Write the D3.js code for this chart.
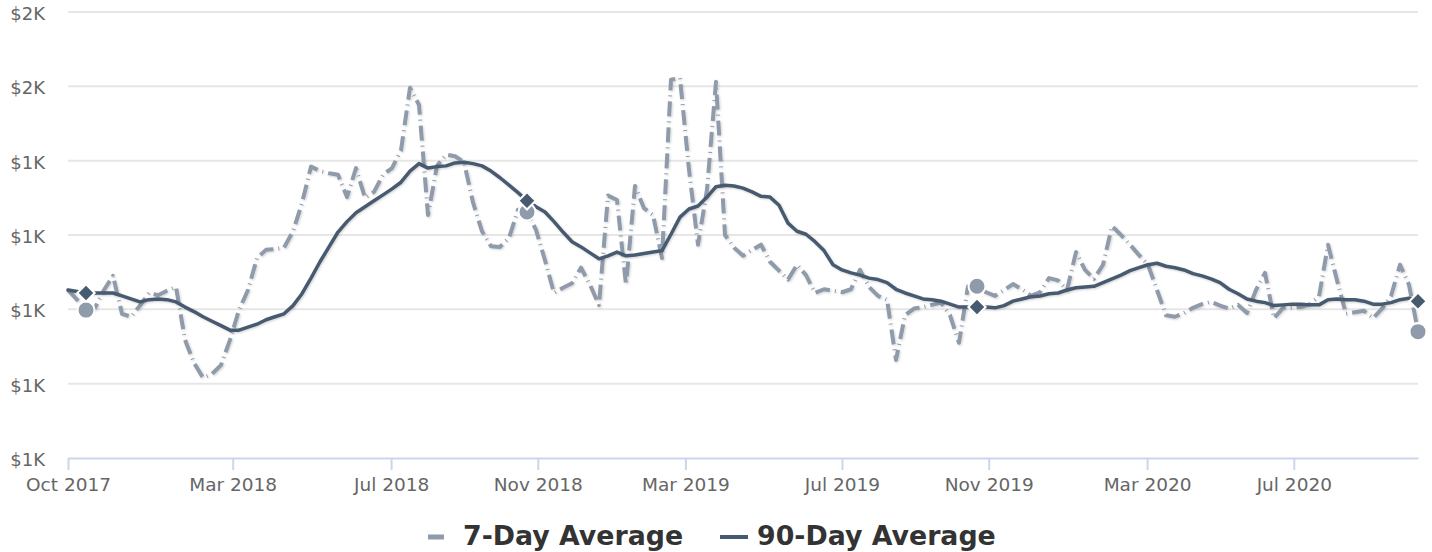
<!DOCTYPE html>
<html><head><meta charset="utf-8">
<script src="https://cdn.jsdelivr.net/npm/d3@7"></script>
<style>
html,body{margin:0;padding:0;background:#fff;}
svg{display:block;font-family:"DejaVu Sans",sans-serif;}
</style></head>
<body>
<svg id="chart" width="1432" height="552"></svg>
<script>
// ---- data ----
const seriesNames = ["7-Day Average", "90-Day Average"];
const sevenDay = [1226,1213,1199,1202,1226,1245,1194,1190,1205,1222,
1219,1225,1230,1159,1128,1108,1113,1125,1159,1199,
1226,1269,1280,1281,1283,1305,1343,1392,1386,1383,
1381,1351,1390,1350,1358,1381,1390,1414,1498,1475,
1327,1393,1408,1406,1398,1344,1305,1285,1284,1296,
1334,1331,1307,1266,1222,1229,1235,1256,1233,1206,
1353,1347,1233,1366,1336,1327,1269,1509,1511,1388,
1287,1361,1506,1300,1283,1272,1280,1287,1264,1252,
1240,1260,1246,1222,1227,1225,1223,1227,1253,1230,
1218,1213,1132,1192,1201,1203,1206,1209,1192,1155,
1231,1231,1223,1218,1226,1234,1227,1218,1223,1242,
1239,1226,1277,1253,1241,1260,1312,1300,1287,1273,
1260,1226,1192,1190,1195,1202,1207,1210,1205,1201,
1206,1195,1226,1249,1188,1202,1202,1203,1207,1217,
1287,1239,1194,1196,1198,1188,1201,1218,1260,1233,1170];
const ninetyDay = [1226,1224,1222,1222,1222,1222,1218,1214,1210,1213,
1214,1213,1210,1203,1197,1190,1184,1178,1172,1172,
1176,1180,1186,1190,1194,1205,1221,1242,1264,1284,
1304,1318,1330,1338,1346,1354,1362,1371,1386,1396,
1390,1392,1393,1397,1398,1396,1393,1386,1377,1367,
1357,1346,1338,1331,1318,1304,1291,1284,1276,1268,
1272,1277,1272,1273,1275,1277,1279,1301,1324,1335,
1339,1351,1365,1367,1366,1363,1358,1352,1351,1340,
1316,1305,1301,1291,1279,1260,1253,1249,1246,1242,
1240,1236,1227,1222,1218,1214,1213,1211,1207,1203,
1203,1203,1203,1202,1205,1211,1214,1217,1218,1221,
1222,1226,1229,1230,1231,1236,1241,1246,1252,1256,
1260,1262,1258,1256,1253,1248,1245,1241,1236,1227,
1221,1214,1211,1209,1205,1206,1207,1207,1206,1206,
1213,1214,1213,1213,1211,1207,1207,1209,1213,1215,1211];
const markerIdx = [2, 51, 101, 150];
const xTickLabels = ["Oct 2017","Mar 2018","Jul 2018","Nov 2018","Mar 2019","Jul 2019","Nov 2019","Mar 2020","Jul 2020"];
const xTickIdx = [0, 18.3, 35.9, 52.2, 68.6, 86.0, 102.3, 119.9, 136.2];
const yTickValues = [1000,1100,1200,1300,1400,1500,1600];
const yTickLabels = ["$1K","$1K","$1K","$1K","$1K","$2K","$2K"];

// ---- layout ----
const colSeven = "#8f9aaa", colNinety = "#465a70";
const L = 68, R = 1418, T = 12, B = 458;
const svg = d3.select("#chart");
const defs = svg.append("defs");
const f = defs.append("filter").attr("id","sh").attr("x","-5%").attr("y","-5%").attr("width","110%").attr("height","110%");
f.append("feDropShadow").attr("dx",1).attr("dy",1).attr("stdDeviation",1).attr("flood-color","#000").attr("flood-opacity",0.18);

const x = d3.scaleLinear().domain([0, sevenDay.length-1]).range([L, R]);
const y = d3.scaleLinear().domain([1000,1600]).range([B, T]);

// grid
svg.append("g").selectAll("line").data(yTickValues.slice(1)).join("line")
  .attr("x1", L).attr("x2", R).attr("y1", d=>y(d)).attr("y2", d=>y(d))
  .attr("stroke","#e6e6e6").attr("stroke-width",2);

// y axis labels
const ya = svg.append("g").attr("transform",`translate(${L},0)`)
  .call(d3.axisLeft(y).tickValues(yTickValues).tickFormat((d,i)=>yTickLabels[i]).tickSize(0).tickPadding(23));
ya.select(".domain").remove();
ya.selectAll("text").attr("font-size",18).attr("fill","#666").attr("font-family","DejaVu Sans").attr("dy","0.42em");

// x axis
const xa = svg.append("g").attr("transform",`translate(0,${B})`)
  .call(d3.axisBottom(x).tickValues(xTickIdx).tickFormat((d,i)=>xTickLabels[i]).tickSize(12).tickSizeOuter(0).tickPadding(15));
xa.select(".domain").attr("stroke","#ccd6eb").attr("stroke-width",2);
xa.selectAll(".tick line").attr("stroke","#ccd6eb").attr("stroke-width",2);
xa.selectAll("text").attr("font-size",18.5).attr("fill","#666").attr("font-family","DejaVu Sans").attr("dy","0.3em");

// lines
const line = d3.line().x((d,i)=>x(i)).y(d=>y(d));
svg.append("path").datum(sevenDay).attr("d", line).attr("fill","none")
  .attr("stroke", colSeven).attr("stroke-width",4).attr("stroke-dasharray","15,5,1,5")
  .attr("stroke-linejoin","round").attr("filter","url(#sh)");
svg.append("path").datum(ninetyDay).attr("d", line).attr("fill","none")
  .attr("stroke", colNinety).attr("stroke-width",3.5).attr("stroke-linejoin","round").attr("stroke-linecap","round")
  .attr("filter","url(#sh)");

// markers
svg.append("g").selectAll("circle").data(markerIdx).join("circle")
  .attr("cx", d=>x(d)).attr("cy", d=>y(sevenDay[d])).attr("r",8.5)
  .attr("fill", colSeven).attr("stroke","#fff").attr("stroke-width",2);
svg.append("g").selectAll("path").data(markerIdx).join("path")
  .attr("d", d3.symbol(d3.symbolSquare, 150))
  .attr("transform", d=>`translate(${x(d)},${y(ninetyDay[d])}) rotate(45)`)
  .attr("fill", colNinety).attr("stroke","#fff").attr("stroke-width",2);

// legend
const lg = svg.append("g").attr("font-family","DejaVu Sans").attr("font-weight","bold").attr("font-size",26.8).attr("fill","#333");
lg.append("line").attr("x1",428).attr("x2",444).attr("y1",537).attr("y2",537).attr("stroke",colSeven).attr("stroke-width",5);
lg.append("text").attr("x",463).attr("y",545).text(seriesNames[0]);
lg.append("line").attr("x1",720).attr("x2",748).attr("y1",537).attr("y2",537).attr("stroke",colNinety).attr("stroke-width",4);
lg.append("text").attr("x",757).attr("y",545).text(seriesNames[1]);
</script>
</body></html>
